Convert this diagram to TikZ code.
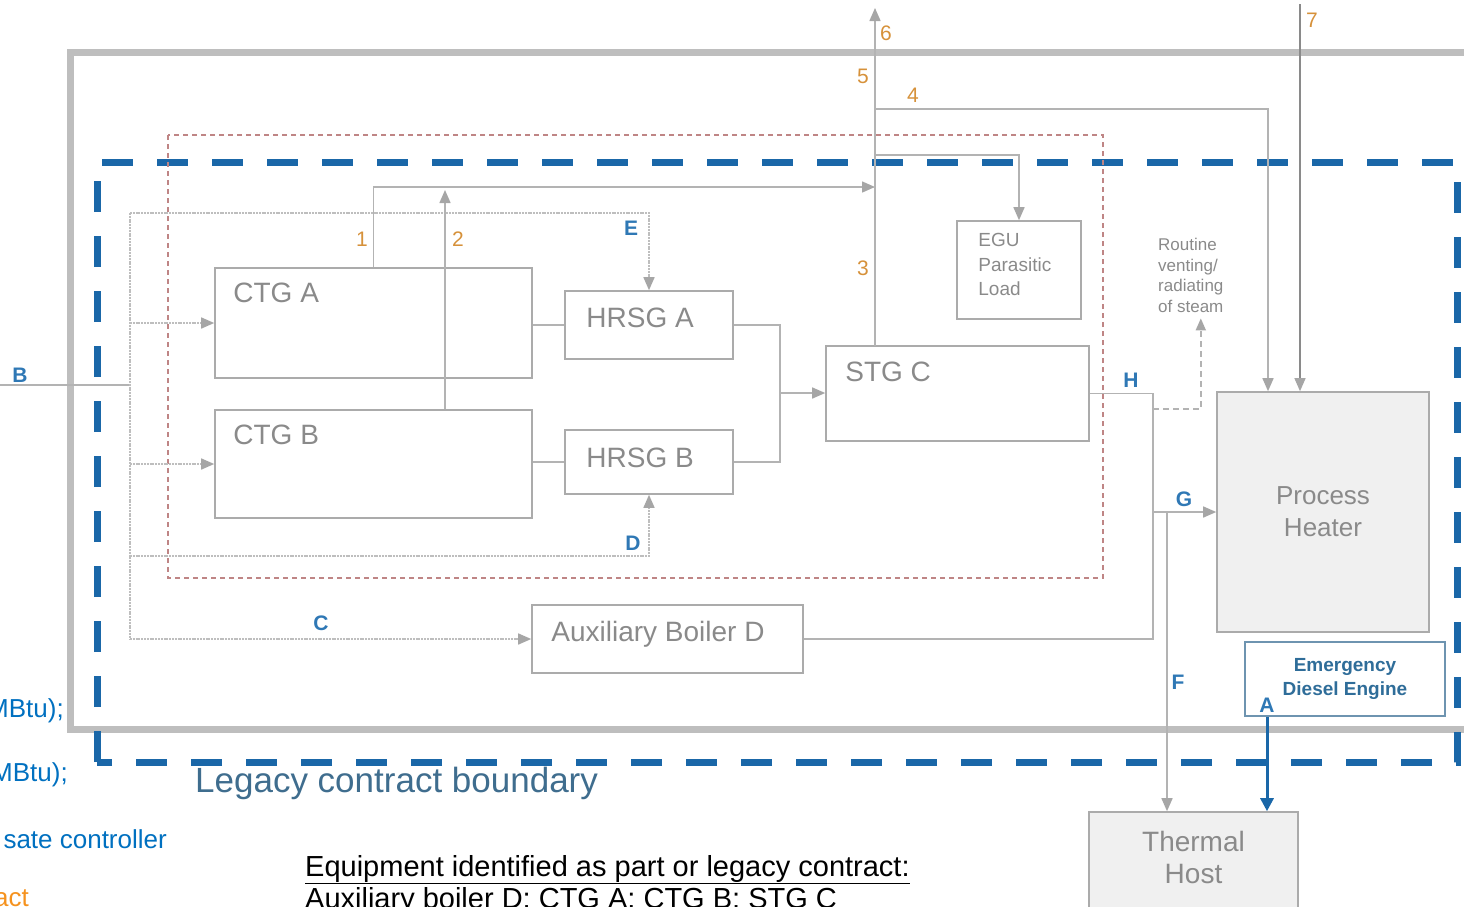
\documentclass[tikz,border=0pt]{standalone}
\usepackage{fontspec}
\setmainfont{Liberation Sans}
\usetikzlibrary{arrows.meta}
\definecolor{Frame}{HTML}{BEBEBE}
\definecolor{Boundary}{HTML}{1A67A8}
\definecolor{Scope}{HTML}{BF8585}
\definecolor{BoxLine}{HTML}{ABABAB}
\definecolor{BoxFill}{HTML}{F0F0F0}
\definecolor{Txt}{HTML}{8A8A8A}
\definecolor{Pipe}{HTML}{B3B3B3}
\definecolor{Tip}{HTML}{A6A6A6}
\definecolor{Num}{HTML}{D6913A}
\definecolor{Tag}{HTML}{2F78B5}
\definecolor{Legacy}{HTML}{3F6D8E}
\definecolor{Note}{HTML}{0070C0}
\definecolor{Orange}{HTML}{F5921E}
\definecolor{Engine}{HTML}{6E94B0}
\definecolor{EngineTxt}{HTML}{2F6D99}
\newcommand{\fs}[2]{\fontsize{#1}{#2}\selectfont}
\tikzset{
  box/.style={draw=BoxLine,line width=1.6pt,inner sep=0pt,font=\fs{28}{32},text=Txt,align=center},
  shaded/.style={box,fill=BoxFill,font=\fs{26}{32}},
  tag/.style={inner sep=0pt,font=\fs{28}{32},text=Txt},
  pipe/.style={draw=Pipe,line width=1.5pt},
  feed/.style={draw=Pipe!85,line width=1.5pt,dash pattern=on 2pt off 0.8pt},
  arr/.style={pipe,-{Triangle[length=13pt,width=11pt,color=Tip]}},
  feedarr/.style={feed,-{Triangle[length=13pt,width=11pt,color=Tip]}},
  ventarr/.style={draw=Pipe,line width=1.8pt,dash pattern=on 6pt off 4pt,-{Triangle[length=12pt,width=10pt,color=Tip]}},
  inarr/.style={draw=Txt,line width=1.2pt,-{Triangle[length=13pt,width=11pt,color=Tip]}},
  bluearr/.style={draw=Boundary,line width=3pt,-{Triangle[length=13pt,width=13pt]}},
  num/.style={inner sep=0pt,font=\fs{21}{24},text=Num},
  flow/.style={inner sep=0pt,font=\bfseries\fs{21}{24},text=Tag},
  note/.style={inner sep=0pt,font=\fs{26}{30},text=Note}
}
\begin{document}
\begin{tikzpicture}[x=1pt,y=-1pt]
  \useasboundingbox (0,0) rectangle (1464,906);
  \draw[draw=Frame,line width=7pt] (70,52) rectangle (1480,729);
  \draw[draw=Boundary,line width=7pt,dash pattern=on 31pt off 24pt] (97,762) -- (97,162) -- (1457,162) -- (1457,762) -- cycle;
  \draw[draw=Scope,line width=1.6pt,dash pattern=on 5pt off 4pt] (168,135) rectangle (1103,578);

  \node[box,minimum width=317pt,minimum height=110pt,label={[tag,anchor=north west,xshift=19pt,yshift=-16pt]north west:CTG A}] (ctga) at (373.5,323) {};
  \node[box,minimum width=317pt,minimum height=108pt,label={[tag,anchor=north west,xshift=19pt,yshift=-16pt]north west:CTG B}] (ctgb) at (373.5,464) {};
  \node[box,minimum width=168pt,minimum height=68pt,label={[tag,anchor=west,xshift=22pt,yshift=7pt]west:HRSG A}] (hrsga) at (649,325) {};
  \node[box,minimum width=168pt,minimum height=64pt,label={[tag,anchor=west,xshift=22pt,yshift=4pt]west:HRSG B}] (hrsgb) at (649,462) {};
  \node[box,minimum width=263pt,minimum height=95pt,label={[tag,anchor=north west,xshift=20pt,yshift=-17pt]north west:STG C}] (stgc) at (957.5,393.5) {};
  \node[box,minimum width=124pt,minimum height=98pt,label={[tag,anchor=north west,align=left,font=\fs{19}{24.5},xshift=22pt,yshift=-13pt]north west:EGU\\Parasitic\\Load}] (egu) at (1019,270) {};
  \node[box,minimum width=271pt,minimum height=68pt,label={[tag,anchor=west,xshift=20pt,yshift=5pt]west:Auxiliary Boiler D}] (aux) at (667.5,639) {};
  \node[shaded,minimum width=212pt,minimum height=240pt] (heater) at (1323,512) {Process\\Heater};
  \node[box,draw=Engine,line width=2pt,minimum width=200pt,minimum height=74pt,text=EngineTxt,font=\bfseries\fs{19}{24}] (engine) at (1345,679) {Emergency\\Diesel Engine};
  \node[shaded,minimum width=209pt,minimum height=116pt,label={[tag,anchor=north,align=center,yshift=-20pt]north:Thermal\\Host}] (host) at (1193.5,870) {};
  \node[tag,anchor=north west,align=left,font=\fs{17}{20.5}] (vent) at (1158,238) {Routine\\venting/\\radiating\\of steam};

  \coordinate (srcB) at (0,385);
  \coordinate (bus) at (130,385);
  \coordinate (stem) at (875,346);
  \coordinate (hub) at (780,393);
  \coordinate (hcol) at (1153,392);
  \coordinate (fcol) at (1167,512);
  \coordinate (src7) at (1300,4);
  \coordinate (c2) at ([xshift=71.5pt]ctgb.north);
  \coordinate (p4) at ([xshift=-55pt]heater.north);
  \coordinate (aout) at ([xshift=-78pt]engine.south);

  \draw[pipe] (srcB) -- (bus);
  \draw[feed] (bus |- 0,213) -- (bus |- 0,640);
  \draw[feedarr] (bus |- 0,213) -| (hrsga.north);
  \draw[feedarr] (bus |- ctga.west) -- (ctga.west);
  \draw[feedarr] (bus |- ctgb.west) -- (ctgb.west);
  \draw[feedarr] (bus |- 0,556) -| (hrsgb.south);
  \draw[feedarr] (bus |- aux.west) -- (aux.west);
  \draw[pipe] (ctga.east |- hrsga.west) -- (hrsga.west);
  \draw[pipe] (ctgb.east |- hrsgb.west) -- (hrsgb.west);
  \draw[pipe] (hrsga.east) -| (hub |- hrsgb.east) -- (hrsgb.east);
  \draw[arr] (hub) -- (hub -| stgc.west);
  \draw[arr] (ctga.north) |- (stem |- 0,187);
  \draw[arr] (c2) -- (c2 |- 0,190);
  \draw[arr] (stem) -- (stem |- 0,8);
  \draw[arr] (stem |- 0,155) -| (egu.north);
  \draw[arr] (stem |- 0,109) -| (p4);
  \draw[inarr] (src7) -- (src7 |- heater.north);
  \draw[pipe] (stgc.east) -| (hcol |- aux.east) -- (aux.east);
  \draw[ventarr] (hcol |- 0,409) -| ([xshift=10pt,yshift=-6pt]vent.south);
  \draw[arr] (hcol |- heater.west) -- (heater.west);
  \draw[arr] (fcol) -- (fcol |- host.north);
  \draw[bluearr] (aout) -- (aout |- host.north);

  \foreach \n/\x/\y in {1/362/239,2/458/239,3/863/268,4/913/95,5/863/76,6/886/33,7/1312/20}
    \node[num] (num\n) at (\x,\y) {\n};
  \foreach \t/\x/\y in {B/20/375,E/631/228,D/633/543,C/321/623,H/1131/380,G/1184/499,F/1178/682,A/1267/705}
    \node[flow] (flow\t) at (\x,\y) {\t};

  \node[anchor=west,inner sep=0pt,text=Legacy,font=\fs{35}{40}] (legacy) at (195,783) {Legacy contract boundary};
  \node[anchor=base west,inner sep=0pt,font=\fs{29}{32}] (eqhead) at (305,876) {\underline{Equipment identified as part or legacy contract:}};
  \node[anchor=base west,inner sep=0pt,font=\fs{29}{32}] (eqlist) at (305,908) {Auxiliary boiler D; CTG A; CTG B; STG C};
  \node[note,anchor=east] (note1) at (64,711) {MBtu);};
  \node[note,anchor=east] (note2) at (68,775) {MBtu);};
  \node[note,anchor=east] (note3) at (167,839) {sate controller};
  \node[note,anchor=east,text=Orange] (note4) at (29,898) {act};
\end{tikzpicture}
\end{document}
